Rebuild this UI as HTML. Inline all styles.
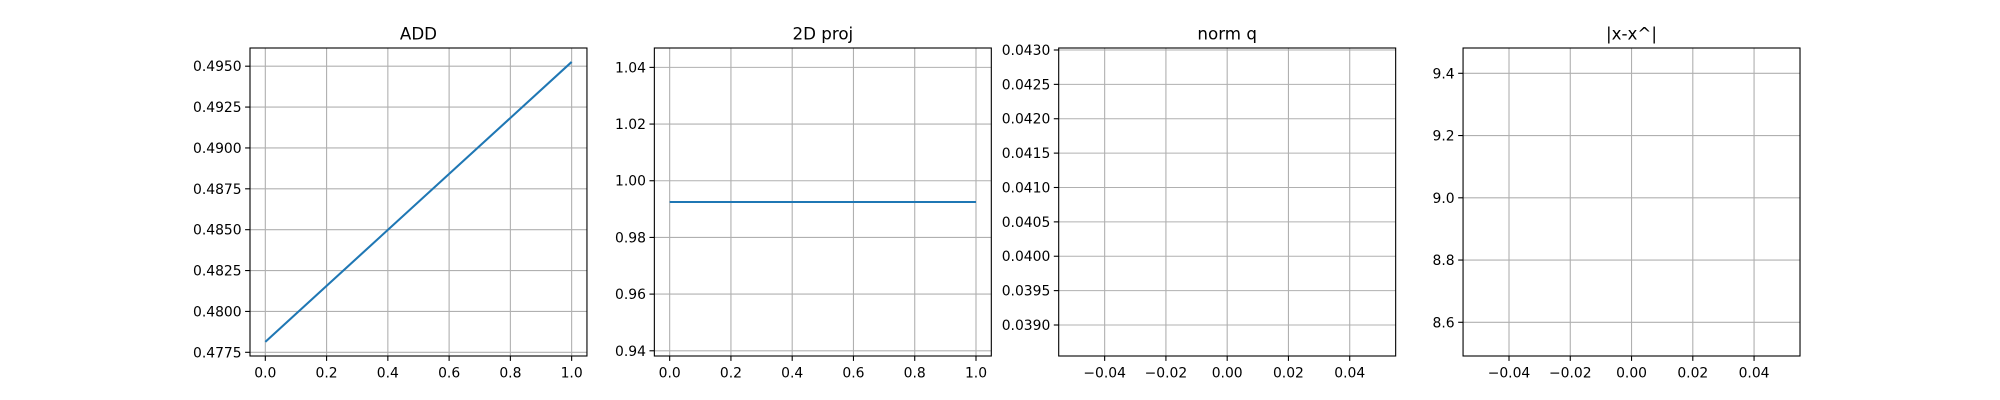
<!DOCTYPE html>
<html><head><meta charset="utf-8"><style>
html,body{margin:0;padding:0;background:#fff;}
svg{display:block;font-family:"DejaVu Sans","Liberation Sans",sans-serif;}
</style></head><body>
<svg id="fig" width="2000" height="400" viewBox="0 0 2000 400"></svg>
<script>
// ---- data ----
const titles = ["ADD", "2D proj", "norm q", "|x-x^|"];
const addX = [0, 1];
const addY = [0.47814, 0.49526];
const projX = [0, 1];
const projY = [0.9925, 0.9925];
const normqY = [0.0408];
const xerrY = [8.9865];
const ylims = [[0.477274, 0.496113], [0.93816, 1.04684], [0.038549, 0.043029], [8.4917, 9.4813]];
const xlims = [[-0.05, 1.05], [-0.05, 1.05], [-0.055, 0.055], [-0.055, 0.055]];
const yTickLabels = [
  ["0.4775","0.4800","0.4825","0.4850","0.4875","0.4900","0.4925","0.4950"],
  ["0.94","0.96","0.98","1.00","1.02","1.04"],
  ["0.0390","0.0395","0.0400","0.0405","0.0410","0.0415","0.0420","0.0425","0.0430"],
  ["8.6","8.8","9.0","9.2","9.4"]
];
const xTickLabels = [
  ["0.0","0.2","0.4","0.6","0.8","1.0"],
  ["0.0","0.2","0.4","0.6","0.8","1.0"],
  ["\u22120.04","\u22120.02","0.00","0.02","0.04"],
  ["\u22120.04","\u22120.02","0.00","0.02","0.04"]
];
const seriesX = [addX, projX, null, null];
const seriesY = [addY, projY, null, null];

const NS = "http://www.w3.org/2000/svg";
const fig = document.getElementById("fig");
function mk(tag, attrs, parent) {
  const e = document.createElementNS(NS, tag);
  for (const k in attrs) e.setAttribute(k, attrs[k]);
  (parent || fig).appendChild(e);
  return e;
}
const top_ = 48, bot = 356, W = 336.96, gap = 0.2 * 336.96;
const keys = ["add", "2d-proj", "norm-q", "x-error"];
for (let i = 0; i < 4; i++) {
  const L = 250 + i * (W + gap), R = L + W;
  const g = mk("g", {});
  
  
  const xs = v => L + (v - xlims[i][0]) / (xlims[i][1] - xlims[i][0]) * W;
  const ys = v => bot - (v - ylims[i][0]) / (ylims[i][1] - ylims[i][0]) * (bot - top_);
  xTickLabels[i].forEach(t => {
    const v = parseFloat(t.replace("\u2212", "-"));
    const x = xs(v);
    const gl = mk("line", {x1:x, x2:x, y1:top_, y2:bot, stroke:"#b0b0b0", "stroke-width":1.1}, g);
    
    
    mk("line", {x1:x, x2:x, y1:bot, y2:bot+4.9, stroke:"#000", "stroke-width":1.1}, g);
    const tx = mk("text", {x:x, y:bot+21.5, "font-size":13.9, "text-anchor":"middle", fill:"#000"}, g);
    tx.textContent = t;
    
    
  });
  yTickLabels[i].forEach(t => {
    const v = parseFloat(t);
    const y = ys(v);
    const gl = mk("line", {x1:L, x2:R, y1:y, y2:y, stroke:"#b0b0b0", "stroke-width":1.1}, g);
    
    
    mk("line", {x1:L-4.9, x2:L, y1:y, y2:y, stroke:"#000", "stroke-width":1.1}, g);
    const tx = mk("text", {x:L-8.4, y:y+5, "font-size":13.9, "text-anchor":"end", fill:"#000"}, g);
    tx.textContent = t;
    
    
  });
  if (seriesX[i]) {
    const pts = seriesX[i].map((x, j) => xs(x) + "," + ys(seriesY[i][j])).join(" ");
    const pl = mk("polyline", {points:pts, fill:"none", stroke:"#1f77b4", "stroke-width":2.08}, g);
    
    
  }
  const fr = mk("rect", {x:L, y:top_, width:W, height:bot-top_, fill:"none", stroke:"#000", "stroke-width":1.1}, g);
  
  
  const ti = mk("text", {x:L+W/2, y:top_-8.5, "font-size":16.7, "text-anchor":"middle", fill:"#000"}, g);
  ti.textContent = titles[i];
  
  
}
</script>
</body></html>
